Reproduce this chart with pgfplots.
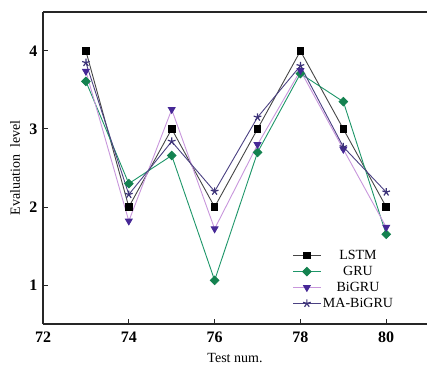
\documentclass[border=0pt]{standalone}
\usepackage{fontspec}
\setmainfont{Liberation Serif}
\usepackage{pgfplots}
\pgfplotsset{compat=1.18}
\definecolor{cLSTM}{RGB}{70,70,70}
\definecolor{cGRU}{RGB}{30,150,105}
\definecolor{cGRUm}{RGB}{20,130,80}
\definecolor{cBi}{RGB}{200,150,220}
\definecolor{cBim}{RGB}{70,40,150}
\definecolor{cMA}{RGB}{75,65,130}
\definecolor{cMAm}{RGB}{60,50,120}
\begin{document}
\begin{tikzpicture}
\begin{axis}[
  scale only axis,
  width=384pt, height=312pt,
  xmin=72, xmax=80.95, ymin=0.5, ymax=4.5,
  axis x line*=bottom, axis y line*=left,
  axis line style={line width=1.1pt, draw=black!85, -},
  xtick={72,74,76,78,80}, ytick={1,2,3,4},
  tick align=inside, major tick length=5pt,
  tick style={line width=1pt, black!85},
  /pgf/number format/assume math mode=true,
  ticklabel style={font=\fontsize{16}{18}\selectfont\bfseries},
  xticklabel style={yshift=-4pt},
  yticklabel style={xshift=-2pt},
  xlabel={Test num.}, ylabel={Evaluation\ \ level},
  every axis x label/.style={at={(rel axis cs:0.5,0)}, anchor=center, yshift=-34pt,
     font=\fontsize{14}{16}\selectfont},
  every axis y label/.style={at={(rel axis cs:0,0.5)}, anchor=center, rotate=90, yshift=28pt,
     font=\fontsize{14}{16}\selectfont},
  legend style={draw=none, fill=none, at={(0.925,0.035)}, anchor=south east,
    font=\fontsize{14}{15}\selectfont, row sep=1.2pt},
  legend cell align=center,
  legend image code/.code={\draw[mark repeat=2,mark phase=2] plot coordinates {(0cm,0cm) (0.48cm,0cm) (0.96cm,0cm)};},
  every axis plot/.append style={line width=0.9pt},
]
\addplot[cLSTM, mark=square*, mark size=3.3pt, mark options={fill=black, draw=black}]
coordinates {(73,4) (74,2) (75,3) (76,2) (77,3) (78,4) (79,3) (80,2)};
\addlegendentry{LSTM}
\addplot[cGRU, mark=square*, mark size=3pt, mark options={rotate=45, fill=cGRUm, draw=cGRUm}]
coordinates {(73,3.61) (74,2.30) (75,2.66) (76,1.06) (77,2.70) (78,3.71) (79,3.35) (80,1.65)};
\addlegendentry{GRU}
\addplot[cBi, mark=triangle*, mark size=3.8pt, mark options={rotate=180, fill=cBim, draw=cBim}]
coordinates {(73,3.74) (74,1.82) (75,3.25) (76,1.72) (77,2.80) (78,3.75) (79,2.74) (80,1.74)};
\addlegendentry{BiGRU}
\addplot[cMA, mark=star, mark size=4pt, mark options={draw=cMAm, line width=1.2pt}]
coordinates {(73,3.85) (74,2.16) (75,2.84) (76,2.20) (77,3.15) (78,3.81) (79,2.77) (80,2.19)};
\addlegendentry{MA-BiGRU}
\draw[line width=1.1pt, black!85] (rel axis cs:0,1) -- (rel axis cs:1,1);
\coordinate (ll) at (rel axis cs:0,0);
\coordinate (ur) at (rel axis cs:1,1);
\end{axis}
\pgfresetboundingbox
\useasboundingbox ([xshift=-43pt,yshift=-40pt]ll) rectangle ([yshift=12pt]ur);
\end{tikzpicture}
\end{document}
